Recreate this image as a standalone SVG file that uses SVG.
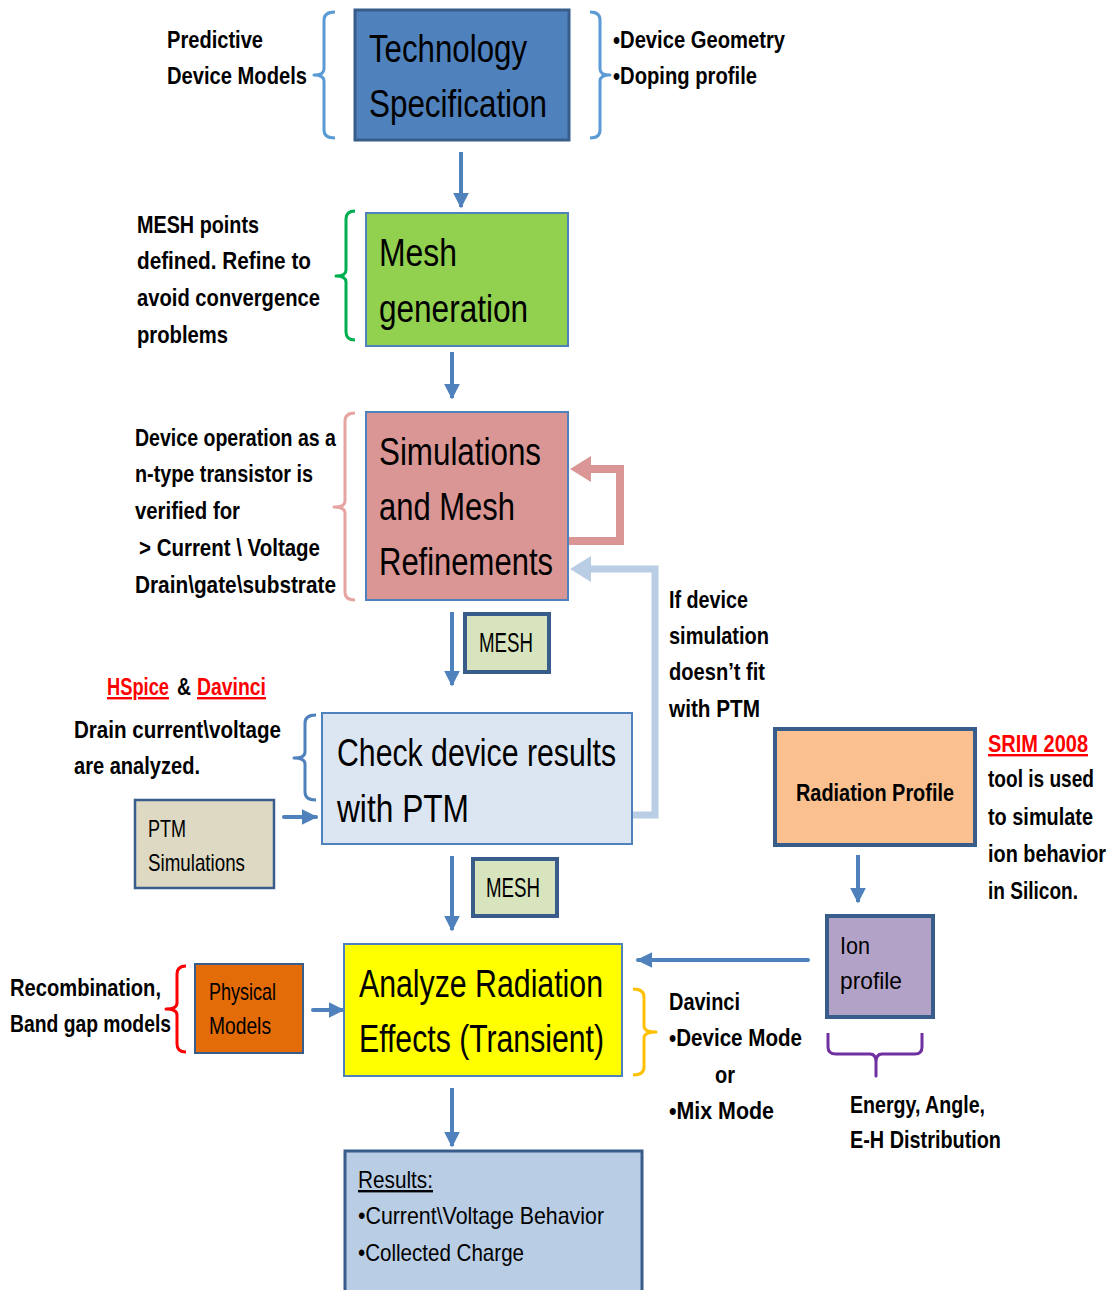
<svg xmlns="http://www.w3.org/2000/svg" width="1114" height="1290" viewBox="0 0 1114 1290">
  <defs>
    <style>
      text { font-family: "Liberation Sans", Arial, sans-serif; fill: #000; }
      .lbl { font-weight: bold; font-size: 24px; }
      .big { font-size: 38px; }
      .mid { font-size: 24px; }
      .tag { font-size: 27px; }
      .red { fill: #FF0000; }
      .box { stroke: #4F81BD; stroke-width: 2; }
      .boxd { stroke: #385D8A; stroke-width: 4; }
      .flow { stroke: #4F81BD; stroke-width: 4; fill: none; }
      .brace { fill: none; stroke-width: 3; stroke-linejoin: round; }
    </style>
    <marker id="head" viewBox="0 0 10 10" refX="9" refY="5" markerWidth="4" markerHeight="4" orient="auto" markerUnits="strokeWidth">
      <path d="M0,0 L10,5 L0,10 Z" fill="#4F81BD"/>
    </marker>
  </defs>
  <rect width="1114" height="1290" fill="#FFFFFF"/>

  <!-- connectors -->
  <g id="connectors">
    <line class="flow" x1="461" y1="152" x2="461" y2="207" marker-end="url(#head)"/>
    <line class="flow" x1="452" y1="352" x2="452" y2="398" marker-end="url(#head)"/>
    <line class="flow" x1="452" y1="612" x2="452" y2="685" marker-end="url(#head)"/>
    <line class="flow" x1="452" y1="856" x2="452" y2="930" marker-end="url(#head)"/>
    <line class="flow" x1="452" y1="1088" x2="452" y2="1146" marker-end="url(#head)"/>
    <line class="flow" x1="858" y1="855" x2="858" y2="902" marker-end="url(#head)"/>
    <line class="flow" x1="808" y1="960" x2="638" y2="960" stroke-width="5" stroke-linecap="round" marker-end="url(#head)"/>
    <line class="flow" x1="284" y1="817" x2="316" y2="817" stroke-width="6" stroke-linecap="round" marker-end="url(#head)"/>
    <line class="flow" x1="313" y1="1010" x2="343" y2="1010" stroke-width="6" stroke-linecap="round" marker-end="url(#head)"/>
    <!-- refinement loop -->
    <polyline points="569,541 620,541 620,469 590,469" fill="none" stroke="#D99694" stroke-width="8"/>
    <path d="M570,469 L591,456 L591,482 Z" fill="#D99694"/>
    <!-- PTM mismatch loop -->
    <polyline points="633,815 655,815 655,569 590,569" fill="none" stroke="#B9CDE5" stroke-width="7"/>
    <path d="M570,569 L591,556 L591,582 Z" fill="#B9CDE5"/>
  </g>

  <!-- Technology Specification -->
  <g id="tech-spec">
    <rect x="355" y="10" width="214" height="130" fill="#4F81BD" stroke="#385D8A" stroke-width="3"/>
    <text class="big" x="369" y="62" textLength="158" lengthAdjust="spacingAndGlyphs">Technology</text>
    <text class="big" x="369" y="117" textLength="178" lengthAdjust="spacingAndGlyphs">Specification</text>
  </g>
  <g id="tech-left-note">
    <path class="brace" stroke="#5B9BD5" d="M335,12 Q324,12 324,20 L324,69 Q324,75 314,75 Q324,75 324,81 L324,130 Q324,138 335,138"/>
    <text class="lbl" x="167" y="48" textLength="96" lengthAdjust="spacingAndGlyphs">Predictive</text>
    <text class="lbl" x="167" y="84" textLength="140" lengthAdjust="spacingAndGlyphs">Device Models</text>
  </g>
  <g id="tech-right-note">
    <path class="brace" stroke="#5B9BD5" d="M590,12 Q600,12 600,20 L600,69 Q600,75 610,75 Q600,75 600,81 L600,130 Q600,138 590,138"/>
    <text class="lbl" x="613" y="48" textLength="172" lengthAdjust="spacingAndGlyphs">•Device Geometry</text>
    <text class="lbl" x="613" y="84" textLength="144" lengthAdjust="spacingAndGlyphs">•Doping profile</text>
  </g>

  <!-- Mesh generation -->
  <g id="mesh-gen">
    <rect class="box" x="366" y="213" width="202" height="133" fill="#92D050"/>
    <text class="big" x="379" y="266" textLength="78" lengthAdjust="spacingAndGlyphs">Mesh</text>
    <text class="big" x="379" y="322" textLength="149" lengthAdjust="spacingAndGlyphs">generation</text>
  </g>
  <g id="mesh-note">
    <path class="brace" stroke="#00B050" d="M355,211 Q346,211 346,219 L346,270 Q346,276 336,276 Q346,276 346,282 L346,332 Q346,340 355,340"/>
    <text class="lbl" x="137" y="233" textLength="122" lengthAdjust="spacingAndGlyphs">MESH points</text>
    <text class="lbl" x="137" y="269" textLength="174" lengthAdjust="spacingAndGlyphs">defined. Refine  to</text>
    <text class="lbl" x="137" y="306" textLength="183" lengthAdjust="spacingAndGlyphs">avoid  convergence</text>
    <text class="lbl" x="137" y="343" textLength="91" lengthAdjust="spacingAndGlyphs">problems</text>
  </g>

  <!-- Simulations and Mesh Refinements -->
  <g id="sim-refine">
    <rect class="box" x="366" y="412" width="202" height="188" fill="#D99694"/>
    <text class="big" x="379" y="465" textLength="162" lengthAdjust="spacingAndGlyphs">Simulations</text>
    <text class="big" x="379" y="520" textLength="136" lengthAdjust="spacingAndGlyphs">and Mesh</text>
    <text class="big" x="379" y="575" textLength="174" lengthAdjust="spacingAndGlyphs">Refinements</text>
  </g>
  <g id="sim-note">
    <path class="brace" stroke="#E6A5A3" d="M355,413 Q345,413 345,421 L345,501 Q345,507 334,507 Q345,507 345,513 L345,592 Q345,600 355,600"/>
    <text class="lbl" x="135" y="446" textLength="201" lengthAdjust="spacingAndGlyphs">Device operation as a</text>
    <text class="lbl" x="135" y="482" textLength="178" lengthAdjust="spacingAndGlyphs">n-type transistor is</text>
    <text class="lbl" x="135" y="519" textLength="105" lengthAdjust="spacingAndGlyphs">verified for</text>
    <text class="lbl" x="139" y="556" textLength="181" lengthAdjust="spacingAndGlyphs">&gt; Current \ Voltage</text>
    <text class="lbl" x="135" y="593" textLength="201" lengthAdjust="spacingAndGlyphs">Drain\gate\substrate</text>
  </g>

  <!-- MESH tags -->
  <g id="mesh-tag-1">
    <rect class="boxd" x="465" y="614" width="84" height="58" fill="#D7E4BD"/>
    <text class="tag" x="479" y="652" textLength="54" lengthAdjust="spacingAndGlyphs">MESH</text>
  </g>
  <g id="mesh-tag-2">
    <rect class="boxd" x="473" y="859" width="84" height="57" fill="#D7E4BD"/>
    <text class="tag" x="486" y="897" textLength="54" lengthAdjust="spacingAndGlyphs">MESH</text>
  </g>

  <!-- feedback label -->
  <g id="ptm-feedback-note">
    <text class="lbl" x="669" y="608" textLength="79" lengthAdjust="spacingAndGlyphs">If device</text>
    <text class="lbl" x="669" y="644" textLength="100" lengthAdjust="spacingAndGlyphs">simulation</text>
    <text class="lbl" x="669" y="680" textLength="96" lengthAdjust="spacingAndGlyphs">doesn’t fit</text>
    <text class="lbl" x="669" y="717" textLength="91" lengthAdjust="spacingAndGlyphs">with PTM</text>
  </g>

  <!-- Check device results with PTM -->
  <g id="check-ptm">
    <rect class="box" x="322" y="713" width="310" height="131" fill="#DCE6F2"/>
    <text class="big" x="337" y="766" textLength="279" lengthAdjust="spacingAndGlyphs">Check device results</text>
    <text class="big" x="337" y="822" textLength="132" lengthAdjust="spacingAndGlyphs">with PTM</text>
  </g>
  <g id="check-note">
    <path class="brace" stroke="#4F81BD" d="M316,715 Q305,715 305,723 L305,752 Q305,758 294,758 Q305,758 305,764 L305,792 Q305,800 316,800"/>
    <text class="lbl red" x="107" y="695" textLength="62" lengthAdjust="spacingAndGlyphs" text-decoration="underline">HSpice</text>
    <text class="lbl" x="177" y="695" textLength="14" lengthAdjust="spacingAndGlyphs">&amp;</text>
    <text class="lbl red" x="197" y="695" textLength="69" lengthAdjust="spacingAndGlyphs" text-decoration="underline">Davinci</text>
    <text class="lbl" x="74" y="738" textLength="207" lengthAdjust="spacingAndGlyphs">Drain current\voltage</text>
    <text class="lbl" x="74" y="774" textLength="126" lengthAdjust="spacingAndGlyphs">are analyzed.</text>
  </g>

  <!-- PTM Simulations -->
  <g id="ptm-sim">
    <rect x="135" y="800" width="139" height="88" fill="#DDD9C3" stroke="#385D8A" stroke-width="2.5"/>
    <text class="mid" x="148" y="837" textLength="38" lengthAdjust="spacingAndGlyphs">PTM</text>
    <text class="mid" x="148" y="871" textLength="97" lengthAdjust="spacingAndGlyphs">Simulations</text>
  </g>

  <!-- Radiation Profile -->
  <g id="radiation-profile">
    <rect class="boxd" x="775" y="729" width="200" height="116" fill="#FAC090"/>
    <text class="lbl" x="796" y="801" textLength="158" lengthAdjust="spacingAndGlyphs">Radiation Profile</text>
  </g>
  <g id="srim-note">
    <text class="lbl red" x="988" y="752" textLength="100" lengthAdjust="spacingAndGlyphs" text-decoration="underline">SRIM 2008</text>
    <text class="lbl" x="988" y="787" textLength="106" lengthAdjust="spacingAndGlyphs">tool is used</text>
    <text class="lbl" x="988" y="825" textLength="105" lengthAdjust="spacingAndGlyphs">to simulate</text>
    <text class="lbl" x="988" y="862" textLength="118" lengthAdjust="spacingAndGlyphs">ion behavior</text>
    <text class="lbl" x="988" y="899" textLength="90" lengthAdjust="spacingAndGlyphs">in Silicon.</text>
  </g>

  <!-- Ion profile -->
  <g id="ion-profile">
    <rect class="boxd" x="827" y="916" width="106" height="101" fill="#B3A2C7"/>
    <text class="mid" x="840" y="954" textLength="30" lengthAdjust="spacingAndGlyphs">Ion</text>
    <text class="mid" x="840" y="989" textLength="62" lengthAdjust="spacingAndGlyphs">profile</text>
  </g>
  <g id="ion-note">
    <path class="brace" stroke="#7030A0" d="M828,1033 L828,1047 Q828,1054 836,1054 L870,1054 Q876,1054 876,1062 L876,1076 L876,1062 Q876,1054 882,1054 L915,1054 Q922,1054 922,1047 L922,1033"/>
    <text class="lbl" x="850" y="1113" textLength="135" lengthAdjust="spacingAndGlyphs">Energy, Angle,</text>
    <text class="lbl" x="850" y="1148" textLength="151" lengthAdjust="spacingAndGlyphs">E-H Distribution</text>
  </g>

  <!-- Physical Models -->
  <g id="physical-models">
    <rect x="195" y="964" width="108" height="89" fill="#E36C09" stroke="#385D8A" stroke-width="2"/>
    <text class="mid" x="209" y="1000" textLength="67" lengthAdjust="spacingAndGlyphs">Physical</text>
    <text class="mid" x="209" y="1034" textLength="62" lengthAdjust="spacingAndGlyphs">Models</text>
  </g>
  <g id="physical-note">
    <path class="brace" stroke="#FF0000" d="M186,966 Q177,966 177,974 L177,1003 Q177,1009 166,1009 Q177,1009 177,1015 L177,1044 Q177,1052 186,1052"/>
    <text class="lbl" x="10" y="996" textLength="151" lengthAdjust="spacingAndGlyphs">Recombination,</text>
    <text class="lbl" x="10" y="1032" textLength="161" lengthAdjust="spacingAndGlyphs">Band gap models</text>
  </g>

  <!-- Analyze Radiation Effects -->
  <g id="analyze">
    <rect class="box" x="344" y="944" width="278" height="132" fill="#FFFF00"/>
    <text class="big" x="359" y="997" textLength="244" lengthAdjust="spacingAndGlyphs">Analyze Radiation</text>
    <text class="big" x="359" y="1052" textLength="245" lengthAdjust="spacingAndGlyphs">Effects (Transient)</text>
  </g>
  <g id="analyze-note">
    <path class="brace" stroke="#FFC000" d="M633,989 Q644,989 644,997 L644,1026 Q644,1032 656,1032 Q644,1032 644,1038 L644,1067 Q644,1075 633,1075"/>
    <text class="lbl" x="669" y="1010" textLength="71" lengthAdjust="spacingAndGlyphs">Davinci</text>
    <text class="lbl" x="669" y="1046" textLength="133" lengthAdjust="spacingAndGlyphs">•Device Mode</text>
    <text class="lbl" x="715" y="1083" textLength="20" lengthAdjust="spacingAndGlyphs">or</text>
    <text class="lbl" x="669" y="1119" textLength="105" lengthAdjust="spacingAndGlyphs">•Mix Mode</text>
  </g>

  <!-- Results -->
  <g id="results">
    <rect x="345" y="1151" width="297" height="142" fill="#B9CDE5" stroke="#385D8A" stroke-width="3"/>
    <text class="mid" x="358" y="1188" textLength="75" lengthAdjust="spacingAndGlyphs" text-decoration="underline">Results:</text>
    <text class="mid" x="358" y="1224" textLength="246" lengthAdjust="spacingAndGlyphs">•Current\Voltage Behavior</text>
    <text class="mid" x="358" y="1261" textLength="166" lengthAdjust="spacingAndGlyphs">•Collected Charge</text>
  </g>
</svg>
